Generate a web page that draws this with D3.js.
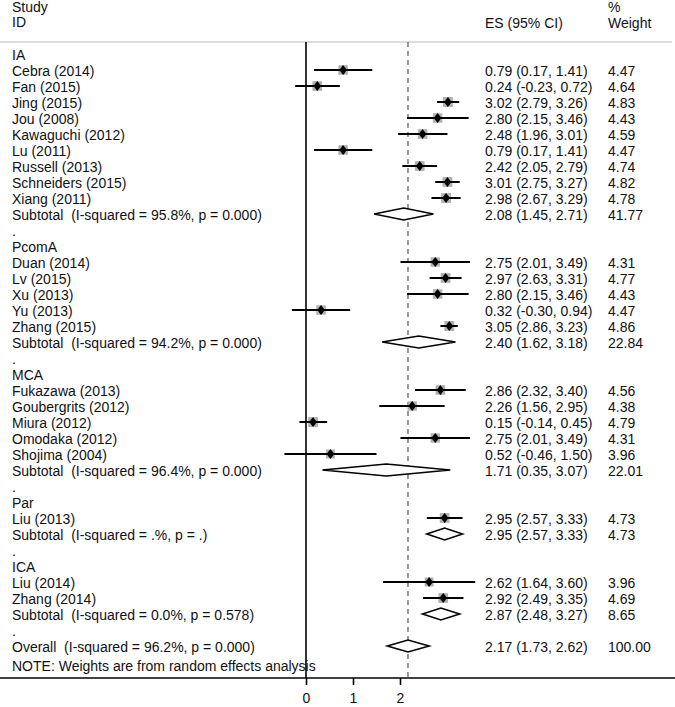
<!DOCTYPE html>
<html><head><meta charset="utf-8">
<script src="https://cdn.jsdelivr.net/npm/d3@7"></script>
<style>
html,body{margin:0;padding:0;background:#fff;}
svg text{font-family:"Liberation Sans",Arial,Helvetica,sans-serif;fill:#111;white-space:pre;}
</style></head>
<body><svg id="c" width="675" height="707"></svg>
<script>
// ---- data ----
const groupNames = ["IA","PcomA","MCA","Par","ICA"];
const studyNames = ["Cebra (2014)","Fan (2015)","Jing (2015)","Jou (2008)","Kawaguchi (2012)","Lu (2011)","Russell (2013)","Schneiders (2015)","Xiang (2011)",
  "Duan (2014)","Lv (2015)","Xu (2013)","Yu (2013)","Zhang (2015)",
  "Fukazawa (2013)","Goubergrits (2012)","Miura (2012)","Omodaka (2012)","Shojima (2004)",
  "Liu (2013)",
  "Liu (2014)","Zhang (2014)"];
const studyGroup = [0,0,0,0,0,0,0,0,0, 1,1,1,1,1, 2,2,2,2,2, 3, 4,4];
const studyES = [0.79,0.24,3.02,2.80,2.48,0.79,2.42,3.01,2.98, 2.75,2.97,2.80,0.32,3.05, 2.86,2.26,0.15,2.75,0.52, 2.95, 2.62,2.92];
const studyLo = [0.17,-0.23,2.79,2.15,1.96,0.17,2.05,2.75,2.67, 2.01,2.63,2.15,-0.30,2.86, 2.32,1.56,-0.14,2.01,-0.46, 2.57, 1.64,2.49];
const studyHi = [1.41,0.72,3.26,3.46,3.01,1.41,2.79,3.27,3.29, 3.49,3.31,3.46,0.94,3.23, 3.40,2.95,0.45,3.49,1.50, 3.33, 3.60,3.35];
const studyWeight = [4.47,4.64,4.83,4.43,4.59,4.47,4.74,4.82,4.78, 4.31,4.77,4.43,4.47,4.86, 4.56,4.38,4.79,4.31,3.96, 4.73, 3.96,4.69];
const subLabel = ["Subtotal  (I-squared = 95.8%, p = 0.000)","Subtotal  (I-squared = 94.2%, p = 0.000)","Subtotal  (I-squared = 96.4%, p = 0.000)","Subtotal  (I-squared = .%, p = .)","Subtotal  (I-squared = 0.0%, p = 0.578)"];
const subES = [2.08,2.40,1.71,2.95,2.87];
const subLo = [1.45,1.62,0.35,2.57,2.48];
const subHi = [2.71,3.18,3.07,3.33,3.27];
const subWeight = [41.77,22.84,22.01,4.73,8.65];
const overallLabel = "Overall  (I-squared = 96.2%, p = 0.000)";
const overallES = 2.17, overallLo = 1.73, overallHi = 2.62, overallWeight = 100.00;
const tickValues = [0,1,2];
const noteText = "NOTE: Weights are from random effects analysis";

// ---- build rows ----
const rows = [];
groupNames.forEach((g,gi)=>{
  if(gi>0) rows.push({type:"dot"});
  rows.push({type:"group",label:g});
  studyNames.forEach((s,i)=>{ if(studyGroup[i]===gi) rows.push({type:"study",label:s,es:studyES[i],lo:studyLo[i],hi:studyHi[i],w:studyWeight[i]}); });
  rows.push({type:"sub",label:subLabel[gi],es:subES[gi],lo:subLo[gi],hi:subHi[gi],w:subWeight[gi]});
});
rows.push({type:"dot"});
rows.push({type:"overall",label:overallLabel,es:overallES,lo:overallLo,hi:overallHi,w:overallWeight});

const svg = d3.select("#c");
const x = d3.scaleLinear().domain([0,2]).range([306,400]);
const y = d3.scaleLinear().domain([0,1]).range([54,70]);
const sq = d3.scaleSqrt().domain([0,5]).range([0,10]);
const fs = 14;
const loc = d3.formatLocale({decimal:".",thousands:",",grouping:[3],currency:["",""],minus:"-"});
const fmt = loc.format(".2f");
const ci = d=>`${fmt(d.es)} (${fmt(d.lo)}, ${fmt(d.hi)})`;

// header
const hdr = svg.append("g").style("font-size",fs+"px");
hdr.append("text").attr("x",12).attr("y",12).text("Study");
hdr.append("text").attr("x",12).attr("y",27).text("ID");
hdr.append("text").attr("x",485).attr("y",28).text("ES (95% CI)");
hdr.append("text").attr("x",608).attr("y",12).text("%");
hdr.append("text").attr("x",608).attr("y",28).text("Weight");
svg.append("line").attr("x1",0).attr("x2",672).attr("y1",42).attr("y2",42).attr("stroke","#ddd").attr("stroke-width",2);

const yTop = 42, yAxis = 678;
// reference lines
svg.append("line").attr("x1",x(0)).attr("x2",x(0)).attr("y1",yTop).attr("y2",yAxis).attr("stroke","#000").attr("stroke-width",1.6);
svg.append("line").attr("x1",x(overallES)).attr("x2",x(overallES)).attr("y1",yTop).attr("y2",yAxis).attr("stroke","#333").attr("stroke-width",1).attr("stroke-dasharray","5,4");

// rows
const g = svg.append("g").style("font-size",fs+"px");
rows.forEach((r,i)=>{
  const yy = y(i);
  const tx = g.append("text").attr("x",12).attr("y",yy+1).attr("dy","0.35em");
  tx.text(r.type==="dot" ? "." : r.label);
  if(r.type==="study"){
    g.append("rect").attr("x",x(r.es)-sq(r.w)/2).attr("y",yy-sq(r.w)/2).attr("width",sq(r.w)).attr("height",sq(r.w)).attr("fill","#b0b0b0");
    g.append("line").attr("x1",x(r.lo)).attr("x2",x(r.hi)).attr("y1",yy).attr("y2",yy).attr("stroke","#000").attr("stroke-width",2);
    g.append("path").attr("d",d3.symbol(d3.symbolDiamond,30)()).attr("transform",`translate(${x(r.es)},${yy}) scale(1.3,1)`).attr("fill","#000");
  }
  if(r.type==="sub"||r.type==="overall"){
    const h=6;
    g.append("path").attr("d",`M${x(r.lo)},${yy}L${x(r.es)},${yy-h}L${x(r.hi)},${yy}L${x(r.es)},${yy+h}Z`).attr("fill","#fff").attr("stroke","#000").attr("stroke-width",1.6);
  }
  if(r.type==="study"||r.type==="sub"||r.type==="overall"){
    g.append("text").attr("x",485).attr("y",yy+1).attr("dy","0.35em").text(ci(r));
    g.append("text").attr("x",608).attr("y",yy+1).attr("dy","0.35em").text(fmt(r.w));
  }
});

// note
g.append("text").attr("x",12).attr("y",666).attr("dy","0.35em").text(noteText);

// axis
svg.append("line").attr("x1",0).attr("x2",675).attr("y1",yAxis).attr("y2",yAxis).attr("stroke","#000").attr("stroke-width",1.4);
const ax = svg.append("g").attr("transform",`translate(0,${yAxis})`)
  .call(d3.axisBottom(x).tickValues(tickValues).tickFormat(d3.format("d")).tickSize(7).tickPadding(8));
ax.select(".domain").remove();
ax.selectAll(".tick line").attr("stroke","#000").attr("stroke-width",1.6);
ax.selectAll(".tick text").style("font-size",fs+"px").style("font-family","'Liberation Sans',Arial,sans-serif").attr("fill","#111");
</script></body></html>
